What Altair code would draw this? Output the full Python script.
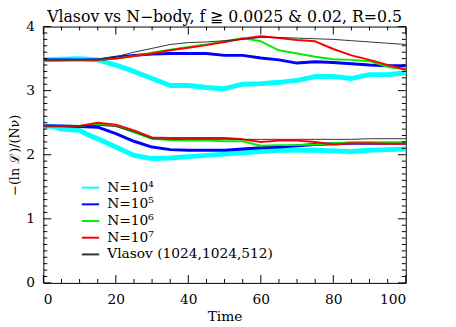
import altair as alt
import pandas as pd

# ---------------- data ----------------
T = [0, 5, 10, 15, 20, 25, 30, 35, 40, 45, 50, 55, 60, 65, 70, 75, 80, 85, 90, 95, 100]
T_CYAN_LOW = [0, 3, 5, 8, 10, 12, 15, 20, 25, 30, 35, 40, 45, 50, 55, 60, 65, 70, 75, 80, 85, 90, 95, 100]

labels = ["N=10⁴", "N=10⁵", "N=10⁶", "N=10⁷", "Vlasov (1024,1024,512)"]
colors = ["#00FFFF", "#0000FF", "#00EE00", "#FF0000", "#333333"]
widths = [5, 3, 2, 2, 1]

TITLE = "Vlasov vs N−body, f ≧ 0.0025 & 0.02, R=0.5"

# upper branch (f = 0.0025)
cyan_u = [3.48, 3.49, 3.50, 3.48, 3.40, 3.30, 3.19, 3.08, 3.08, 3.05, 3.03, 3.10, 3.11, 3.13, 3.16, 3.22, 3.22, 3.19, 3.25, 3.25, 3.28]
blue_u = [3.48, 3.48, 3.48, 3.48, 3.52, 3.55, 3.57, 3.58, 3.58, 3.58, 3.55, 3.55, 3.51, 3.48, 3.43, 3.45, 3.44, 3.42, 3.40, 3.39, 3.39]
green_u = [3.48, 3.48, 3.48, 3.48, 3.50, 3.54, 3.59, 3.64, 3.68, 3.72, 3.77, 3.82, 3.77, 3.63, 3.58, 3.53, 3.49, 3.48, 3.46, 3.37, 3.33]
red_u = [3.48, 3.48, 3.48, 3.48, 3.50, 3.54, 3.58, 3.63, 3.67, 3.71, 3.76, 3.81, 3.85, 3.82, 3.79, 3.77, 3.65, 3.55, 3.48, 3.40, 3.33]
black_u = [3.48, 3.48, 3.48, 3.49, 3.53, 3.60, 3.66, 3.72, 3.75, 3.76, 3.78, 3.80, 3.83, 3.83, 3.82, 3.81, 3.80, 3.78, 3.76, 3.74, 3.72]

# lower branch (f = 0.02)
cyan_l = [2.45, 2.44, 2.40, 2.39, 2.38, 2.32, 2.25, 2.12, 1.99, 1.94, 1.95, 1.97, 1.99, 2.01, 2.03, 2.05, 2.07, 2.07, 2.07, 2.06, 2.05, 2.07, 2.08, 2.09]
blue_l = [2.45, 2.45, 2.44, 2.43, 2.33, 2.21, 2.12, 2.08, 2.07, 2.07, 2.07, 2.09, 2.11, 2.12, 2.14, 2.16, 2.17, 2.18, 2.18, 2.18, 2.18]
green_l = [2.45, 2.45, 2.45, 2.48, 2.45, 2.35, 2.25, 2.23, 2.22, 2.22, 2.21, 2.21, 2.14, 2.15, 2.15, 2.16, 2.18, 2.19, 2.19, 2.19, 2.19]
red_l = [2.45, 2.45, 2.45, 2.50, 2.47, 2.38, 2.27, 2.26, 2.26, 2.26, 2.26, 2.24, 2.20, 2.22, 2.22, 2.20, 2.16, 2.18, 2.18, 2.17, 2.17]
black_l = [2.45, 2.45, 2.45, 2.46, 2.44, 2.36, 2.25, 2.24, 2.24, 2.24, 2.24, 2.24, 2.24, 2.24, 2.24, 2.24, 2.24, 2.24, 2.25, 2.25, 2.25]

x_major = [0, 20, 40, 60, 80, 100]
x_minor = [5, 10, 15, 25, 30, 35, 45, 50, 55, 65, 70, 75, 85, 90, 95]
y_major = [0, 1, 2, 3, 4]
y_minor = [round(i * 0.1, 1) for i in range(41) if i % 10 != 0]

series = [
    (labels[0], [(T, cyan_u, "u"), (T_CYAN_LOW, cyan_l, "l")]),
    (labels[1], [(T, blue_u, "u"), (T, blue_l, "l")]),
    (labels[2], [(T, green_u, "u"), (T, green_l, "l")]),
    (labels[3], [(T, red_u, "u"), (T, red_l, "l")]),
    (labels[4], [(T, black_u, "u"), (T, black_l, "l")]),
]
rows = []
for name, parts in series:
    for ts, vs, br in parts:
        for t, v in zip(ts, vs):
            rows.append({"series": name, "branch": br, "t": t, "v": v})
df = pd.DataFrame(rows)

W, H = 369, 261
FONT = "DejaVu Serif"

xscale = alt.Scale(domain=[0, 100], nice=False, zero=False)
yscale = alt.Scale(domain=[0, 4], nice=False, zero=False)

layers = []
for i, name in enumerate(labels):
    enc = dict(
        x=alt.X("t:Q", scale=xscale,
                axis=alt.Axis(title="Time", values=x_major, format="d", ticks=False,
                              domain=False, grid=False, labelPadding=10,
                              titleY=34, titleBaseline="middle")),
        y=alt.Y("v:Q", scale=yscale,
                axis=alt.Axis(title="−(ln ℒ)/(Nν)", values=y_major, format="d", ticks=False,
                              domain=False, grid=False, labelPadding=9,
                              titleX=-29, titleY=H / 2, titleBaseline="middle",
                              titleFontSize=13)),
        color=alt.Color("series:N", scale=alt.Scale(domain=labels, range=colors),
                        legend=alt.Legend(title=None, orient="none", legendX=38, legendY=154,
                                          symbolType="stroke", symbolSize=310,
                                          symbolStrokeWidth=2, labelFont=FONT,
                                          labelFontSize=14, labelOffset=7, rowPadding=0,
                                          padding=0, labelColor="black", labelLimit=0)),
        strokeWidth=alt.value(widths[i]),
        detail="branch:N",
        order="t:Q",
    )
    layers.append(
        alt.Chart(df).transform_filter(alt.datum.series == name)
        .mark_line(strokeJoin="round").encode(**enc)
    )


def xticks(vals, length):
    d = pd.DataFrame({"t": vals})
    bottom = alt.Chart(d).mark_rule(color="black", strokeWidth=1).encode(
        x=alt.X("t:Q", scale=xscale), y=alt.value(H), y2=alt.value(H - length))
    top = alt.Chart(d).mark_rule(color="black", strokeWidth=1).encode(
        x=alt.X("t:Q", scale=xscale), y=alt.value(0), y2=alt.value(length))
    return [bottom, top]


def yticks(vals, length):
    d = pd.DataFrame({"v": vals})
    left = alt.Chart(d).mark_rule(color="black", strokeWidth=1).encode(
        y=alt.Y("v:Q", scale=yscale), x=alt.value(0), x2=alt.value(length))
    right = alt.Chart(d).mark_rule(color="black", strokeWidth=1).encode(
        y=alt.Y("v:Q", scale=yscale), x=alt.value(W), x2=alt.value(W - length))
    return [left, right]


tick_layers = xticks(x_major, 8) + xticks(x_minor, 4) + yticks(y_major, 8) + yticks(y_minor, 4)

title_layer = alt.Chart(pd.DataFrame({"txt": [TITLE]})).mark_text(
    font=FONT, fontSize=16, baseline="alphabetic", align="center", color="black"
).encode(text="txt:N", x=alt.value(W / 2), y=alt.value(-5))

chart = alt.layer(*layers, *tick_layers, title_layer).properties(
    width=W,
    height=H,
    autosize=alt.AutoSizeParams(type="none"),
    padding={"left": 36, "top": 16, "right": 43, "bottom": 42},
).configure_view(stroke="black", strokeWidth=1, clip=False).configure_axis(
    labelFont=FONT, labelFontSize=14, labelColor="black",
    titleFont=FONT, titleFontSize=14, titleFontWeight="normal", titleColor="black",
)

chart.save("out.html", embed_options={"renderer": "svg", "actions": False})
